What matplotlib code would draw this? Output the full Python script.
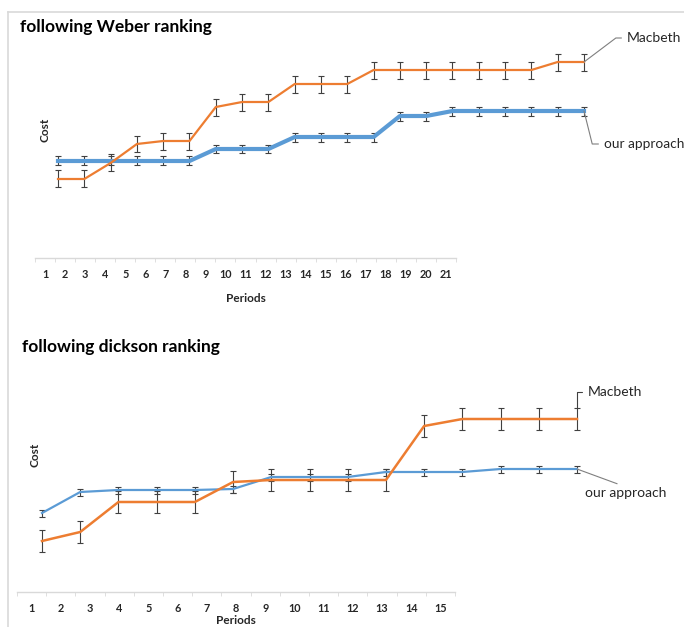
import matplotlib.pyplot as plt
from matplotlib.lines import Line2D

plt.rcParams['font.family'] = ['Lato', 'DejaVu Sans']

# chart 1: following Weber ranking, 21 periods
periods_weber = list(range(1, 22))
macbeth_weber = [79, 79, 95, 114, 117, 117, 151, 156, 156, 174, 174, 174,
                 188, 188, 188, 188, 188, 188, 188, 196, 196]
ours_weber = [97, 97, 97, 97, 97, 97, 109, 109, 109, 121, 121, 121,
              121, 142, 142, 147, 147, 147, 147, 147, 147]
macbeth_weber_err = 8.5
ours_weber_err = 4.5

# chart 2: following dickson ranking, 15 periods
periods_dickson = list(range(1, 16))
macbeth_dickson = [51, 60, 90, 90, 90, 110, 112, 112, 112, 112, 166, 173, 173, 173, 173]
ours_dickson = [79, 100, 102, 102, 102, 103, 115, 115, 115, 120, 120, 120, 123, 123, 123]
macbeth_dickson_err = 11
ours_dickson_err = 3.5

orange = '#ED7D31'
blue = '#5B9BD5'
errc = '#404040'
textc = '#262626'

W, H = 684, 627
fig = plt.figure(figsize=(W / 100, H / 100), dpi=100)


def box(left, top, right, bottom):
    return [left / W, 1 - bottom / H, (right - left) / W, (bottom - top) / H]


def px(x, y):
    return x / W, 1 - y / H


# light grey chart frame
fig.add_artist(Line2D([8 / W, 8 / W], [0, 1 - 12 / H], color='#D9D9D9', lw=1.2))
fig.add_artist(Line2D([8 / W, 1], [1 - 12 / H, 1 - 12 / H], color='#D9D9D9', lw=1.2))


def category_axis(rect, periods, labelpad):
    ax = fig.add_axes(rect)
    ax.patch.set_visible(False)
    for s in ['top', 'left', 'right']:
        ax.spines[s].set_visible(False)
    ax.spines['bottom'].set_color('#D9D9D9')
    ax.spines['bottom'].set_linewidth(1.0)
    ax.set_xlim(periods[0] - 0.5, periods[-1] + 0.5)
    ax.set_yticks([])
    ax.set_xticks(periods)
    ax.set_xticklabels([str(p) for p in periods], fontsize=7.8, fontweight='bold', color=textc)
    ax.set_xticks([p - 0.5 for p in periods] + [periods[-1] + 0.5], minor=True)
    ax.tick_params(axis='x', which='major', length=0, pad=8)
    ax.tick_params(axis='x', which='minor', length=3, color='#D9D9D9', direction='out')
    ax.set_xlabel('Periods', fontsize=8.5, fontweight='bold', color=textc, labelpad=labelpad)
    return ax


def data_axis(rect, periods, top):
    ax = fig.add_axes(rect)
    ax.set_xlim(periods[0] - 0.5, periods[-1] + 0.5)
    ax.set_ylim(0, top)
    ax.axis('off')
    return ax


# ---- top chart
category_axis(box(35, 30, 456, 258), periods_weber, 9)
ax1 = data_axis(box(44.85, 30, 597.15, 258), periods_weber, 228)
ax1.errorbar(periods_weber, ours_weber, yerr=ours_weber_err, color=blue, lw=3,
             ecolor=errc, elinewidth=0.8, capsize=2.5, capthick=0.8)
ax1.errorbar(periods_weber, macbeth_weber, yerr=macbeth_weber_err, color=orange, lw=1.6,
             ecolor=errc, elinewidth=0.8, capsize=2.5, capthick=0.8)

ax1.annotate('Macbeth', xy=(21, macbeth_weber[-1]), xytext=(43, 24), textcoords='offset pixels',
             ha='left', va='center', fontsize=10, color=textc, annotation_clip=False,
             arrowprops=dict(arrowstyle='-', color='#7F7F7F', lw=0.8, relpos=(0, 0.5),
                             connectionstyle='angle,angleA=0,angleB=37,rad=0',
                             shrinkA=2, shrinkB=0))
ax1.annotate('our approach', xy=(21, ours_weber[-1]), xytext=(20, -33), textcoords='offset pixels',
             ha='left', va='center', fontsize=9.8, color=textc, annotation_clip=False,
             arrowprops=dict(arrowstyle='-', color='#7F7F7F', lw=0.8, relpos=(0, 0.5),
                             connectionstyle='angle,angleA=0,angleB=-76,rad=0',
                             shrinkA=2, shrinkB=0))

fig.text(*px(20, 27), 'following Weber ranking', ha='left', va='center',
         fontsize=12.5, fontweight='bold', color='black')
fig.text(*px(45, 130), 'Cost', rotation=90, ha='center', va='center',
         fontsize=8.5, fontweight='bold', color=textc)

# ---- bottom chart
category_axis(box(17, 360, 455, 592), periods_dickson, 1)
ax2 = data_axis(box(22.9, 360, 596.1, 592), periods_dickson, 232)
ax2.errorbar(periods_dickson, ours_dickson, yerr=ours_dickson_err, color=blue, lw=1.6,
             ecolor=errc, elinewidth=0.8, capsize=2.5, capthick=0.8)
ax2.errorbar(periods_dickson, macbeth_dickson, yerr=macbeth_dickson_err, color=orange, lw=1.8,
             ecolor=errc, elinewidth=0.8, capsize=2.5, capthick=0.8)

ax2.annotate('Macbeth', xy=(15, macbeth_dickson[-1]), xytext=(11, 27), textcoords='offset pixels',
             ha='left', va='center', fontsize=10, color=textc, annotation_clip=False,
             arrowprops=dict(arrowstyle='-', color='#404040', lw=0.8, relpos=(0, 0.5),
                             connectionstyle='angle,angleA=0,angleB=90,rad=0',
                             shrinkA=2, shrinkB=8))
ax2.annotate('our approach', xy=(15, ours_dickson[-1]), xytext=(49, -24), textcoords='offset pixels',
             ha='center', va='center', fontsize=10, color=textc, annotation_clip=False,
             arrowprops=dict(arrowstyle='-', color='#7F7F7F', lw=0.8, relpos=(0.5, 1),
                             shrinkA=1, shrinkB=0))

fig.text(*px(22, 347), 'following dickson ranking', ha='left', va='center',
         fontsize=12.5, fontweight='bold', color='black')
fig.text(*px(35, 455), 'Cost', rotation=90, ha='center', va='center',
         fontsize=8.5, fontweight='bold', color=textc)

fig.savefig('out.png', dpi=100)
